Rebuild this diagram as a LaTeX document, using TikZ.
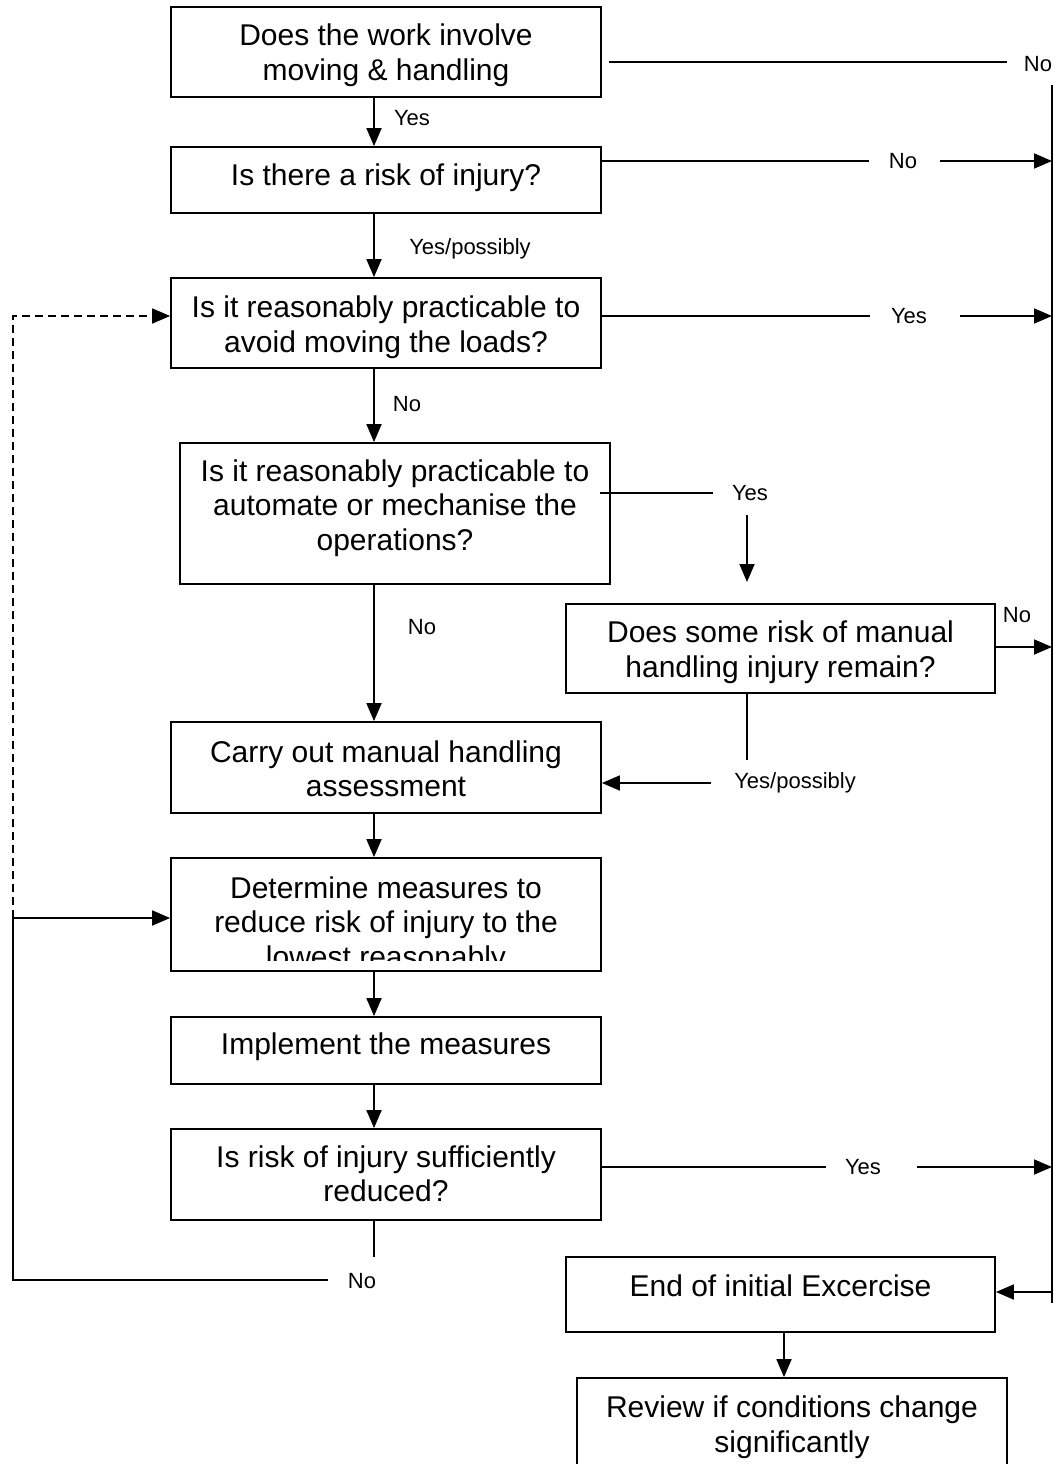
\documentclass[tikz,border=0pt]{standalone}
\usepackage{fontspec}
\setmainfont{Liberation Sans}
\usetikzlibrary{arrows.meta}
\begin{document}
\begin{tikzpicture}[x=1pt,y=-1pt,
  box/.style={draw, line width=1.8pt, inner sep=0pt},
  txt/.style={align=center, font=\fontsize{30}{34.5}\selectfont, inner sep=0pt},
  lbl/.style={font=\fontsize{22}{25}\selectfont, inner sep=0pt},
  ln/.style={line width=1.8pt},
  arr/.style={ln, -{Triangle[length=18pt,width=15pt]}},
  loopdash/.style={dash pattern=on 8pt off 5pt},
]
\clip (0,0) rectangle (1058,1464);
\fill[white] (0,0) rectangle (1058,1464);

% main column of decision boxes
\node[box, minimum width=430pt, minimum height=90pt]  (b1) at (386,52) {};
\node[txt] (t1) at (386,55) {Does the work involve\\moving \& handling};
\node[box, minimum width=430pt, minimum height=66pt]  (b2) at (386,180) {};
\node[txt] (t2) at (386,178) {Is there a risk of injury?};
\node[box, minimum width=430pt, minimum height=90pt]  (b3) at (386,323) {};
\node[txt] (t3) at (386,327) {Is it reasonably practicable to\\avoid moving the loads?};
\node[box, minimum width=430pt, minimum height=141pt] (b4) at (395,513.5) {};
\node[txt] (t4) at (395,508) {Is it reasonably practicable to\\automate or mechanise the\\operations?};
\node[box, minimum width=429pt, minimum height=89pt]  (b5) at (780.5,648.5) {};
\node[txt] (t5) at (780.5,652) {Does some risk of manual\\handling injury remain?};
\node[box, minimum width=430pt, minimum height=91pt]  (b6) at (386,767.5) {};
\node[txt] (t6) at (386,769) {Carry out manual handling\\assessment};
\node[box, minimum width=430pt, minimum height=113pt] (b7) at (386,914.5) {};
\begin{scope}
  \clip (171,858) rectangle (601,960);
  \node[txt] (t7) at (386,925) {Determine measures to\\reduce risk of injury to the\\lowest reasonably};
\end{scope}
\node[box, minimum width=430pt, minimum height=67pt]  (b8) at (386,1050.5) {};
\node[txt] (t8) at (386,1047) {Implement the measures};
\node[box, minimum width=430pt, minimum height=91pt]  (b9) at (386,1174.5) {};
\node[txt] (t9) at (386,1174) {Is risk of injury sufficiently\\reduced?};
\node[box, minimum width=429pt, minimum height=75pt]  (b10) at (780.5,1294.5) {};
\node[txt] (t10) at (780.5,1286) {End of initial Excercise};
% last box runs off the lower edge of the page
\node[box, minimum width=430pt, minimum height=100pt] (b11) at (792,1428) {};
\node[txt] (t11) at (792,1427) {Review if conditions change\\significantly};

% reference points
\coordinate (col) at (374,0);
\coordinate (busT) at (1052,85);
\coordinate (busB) at (1052,1303);

% right-hand exit bus
\draw[ln] (busT) -- (busB);

% labels
\node[lbl] (l1)  at (1038,64)   {No};
\node[lbl] (ly1) at (412,118)   {Yes};
\node[lbl] (l2)  at (903,161)   {No};
\node[lbl] (ly2) at (470,249)   {Yes/possibly};
\node[lbl] (l3)  at (909,316)   {Yes};
\node[lbl] (ln3) at (407,404)   {No};
\node[lbl] (l4)  at (750,493)   {Yes};
\node[lbl] (ln4) at (422,627)   {No};
\node[lbl] (l5n) at (1017,615)  {No};
\node[lbl] (l5)  at (795,783)   {Yes/possibly};
\node[lbl] (l9)  at (863,1167)  {Yes};
\node[lbl] (l9n) at (362,1281)  {No};

% first question: free line towards the top label
\coordinate (r1s) at (609,62);
\coordinate (r1e) at (1007,62);
\draw[ln] (r1s) -- (r1e);

% downward flow in the main column
\draw[arr] (col |- b1.south) -- (col |- b2.north);
\draw[arr] (col |- b2.south) -- (col |- b3.north);
\draw[arr] (col |- b3.south) -- (col |- b4.north);
\draw[arr] (col |- b4.south) -- (col |- b6.north);
\draw[arr] (col |- b6.south) -- (col |- b7.north);
\draw[arr] (col |- b7.south) -- (col |- b8.north);
\draw[arr] (col |- b8.south) -- (col |- b9.north);
\coordinate (stub) at (374,1257);
\draw[ln] (col |- b9.south) -- (stub);

% exits to the bus
\draw[ln]  (b2.east |- l2) -- ([xshift=-19.5pt]l2.west);
\draw[arr] ([xshift=22.5pt]l2.east) -- (busT |- l2);
\draw[ln]  (b3.east |- l3) -- ([xshift=-21pt]l3.west);
\draw[arr] ([xshift=33pt]l3.east) -- (busT |- l3);
\draw[arr] (b5.east |- 0,647) -- (busT |- 0,647);
\draw[ln]  (b9.east |- l9) -- ([xshift=-19pt]l9.west);
\draw[arr] ([xshift=36pt]l9.east) -- (busT |- l9);
\coordinate (endin) at (1052,1292);
\draw[arr] (endin) -- (b10.east |- endin);

% automation branch
\coordinate (a4s) at (600,493);
\draw[ln]  (a4s) -- ([xshift=-19pt]l4.west);
\coordinate (a5s) at (747,515);
\coordinate (a5e) at (747,582);
\draw[arr] (a5s) -- (a5e);
\coordinate (k5) at (747,760);
\draw[ln]  (b5.south -| k5) -- (k5);
\draw[arr] ([xshift=-23pt]l5.west) -- (b6.east |- l5);

% feedback loop on the left
\coordinate (jn) at (13,918);
\coordinate (dtop) at (13,316);
\coordinate (cnr) at (13,1280);
\draw[arr, loopdash] (jn) -- (dtop) -- (b3.west |- dtop);
\draw[arr] ([xshift=-19.5pt]l9n.west |- cnr) -- (cnr) -- (jn) -- (b7.west |- jn);

% final step
\coordinate (fin) at (784,0);
\draw[arr] (fin |- b10.south) -- (fin |- b11.north);
\end{tikzpicture}
\end{document}
